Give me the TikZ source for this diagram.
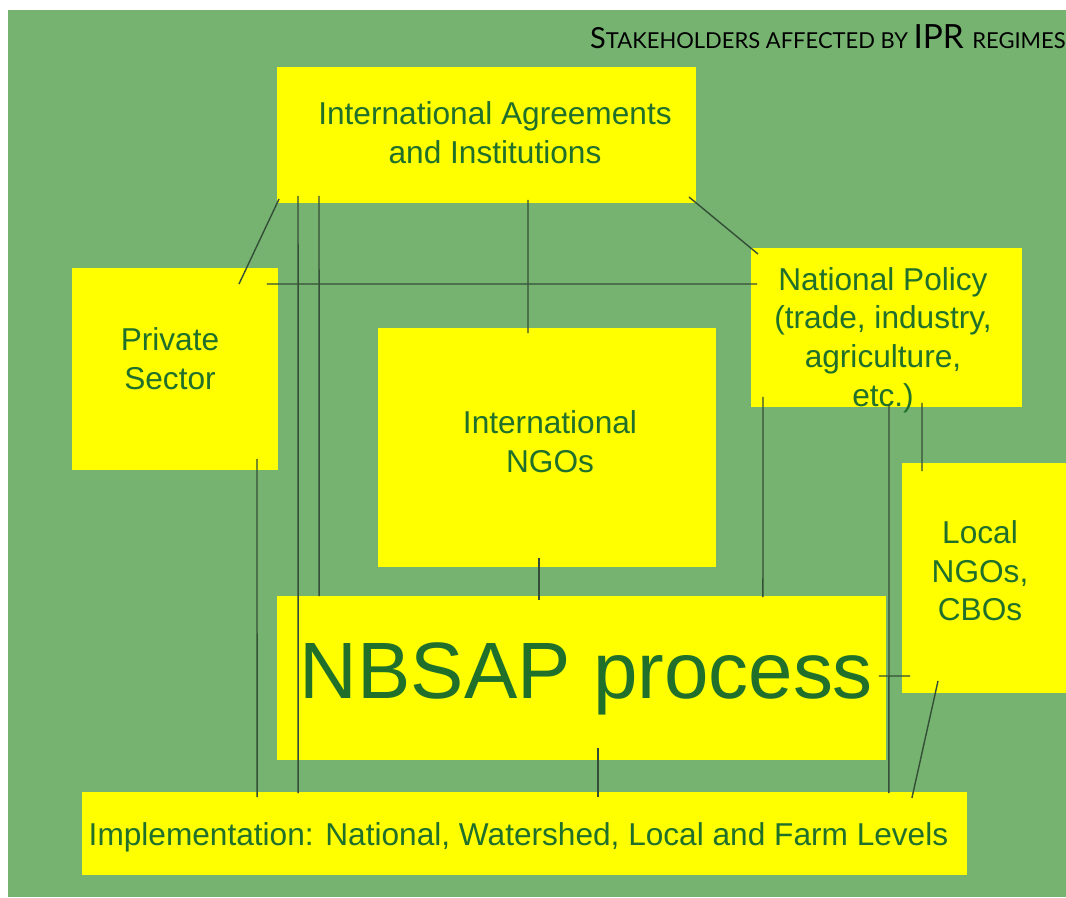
\documentclass[tikz,border=0pt]{standalone}
\usepackage{fontspec}
\usetikzlibrary{calc}
\newfontfamily\boxfont{Liberation Sans}
\newfontfamily\titlefont{Lato}
\definecolor{bggreen}{RGB}{118,179,112}
\definecolor{boxyellow}{RGB}{255,255,0}
\definecolor{txtgreen}{RGB}{32,112,44}
\definecolor{linkgray}{RGB}{52,78,56}

\begin{document}
\begin{tikzpicture}[x=0.02cm, y=-0.02cm,
    box/.style={fill=boxyellow, inner sep=0pt, outer sep=0pt},
    lbl/.style={text=txtgreen, align=center, font=\boxfont\fontsize{18}{22}\selectfont},
    link/.style={draw=linkgray, line width=0.8pt}]
    % Sfondo
    \useasboundingbox (0,0) rectangle (1066,897);
    \fill[white] (0,0) rectangle (1066,897);
    \fill[bggreen] (8,10) rectangle (1066,897);

    % Titolo
    \node[anchor=base east, inner sep=0pt, font=\titlefont] (title) at (1066,48)
        {\fontsize{16.5}{18}\selectfont S\fontsize{12.5}{14}\selectfont TAKEHOLDERS AFFECTED BY
         \fontsize{19}{20}\selectfont IPR \fontsize{12.5}{14}\selectfont REGIMES};

    % Riquadri
    \node[box, minimum width=8.38cm, minimum height=2.72cm] (agree) at (486.5,135) {};
    \node[box, minimum width=4.12cm, minimum height=4.04cm] (private) at (175,369) {};
    \node[box, minimum width=5.42cm, minimum height=3.18cm] (policy) at (886.5,327.5) {};
    \node[box, minimum width=6.76cm, minimum height=4.78cm] (intl) at (547,447.5) {};
    \node[box, minimum width=3.28cm, minimum height=4.60cm] (local) at (984,578) {};
    \node[box, minimum width=12.18cm, minimum height=3.28cm] (nbsap) at (581.5,678) {};
    \node[box, minimum width=17.70cm, minimum height=1.66cm] (impl) at (524.5,833.5) {};

    % Testi
    \node[lbl] (agree-txt) at (495,132.5) {International Agreements\\and Institutions};
    \node[lbl] (private-txt) at (170,359) {Private\\Sector};
    \node[lbl] (policy-txt) at (883,340) {National Policy\\(trade, industry,\\agriculture,\\etc.)};
    \node[lbl] (intl-txt) at (550,442) {International\\NGOs};
    \node[lbl] (local-txt) at (980,571) {Local\\NGOs,\\CBOs};
    \node[lbl, anchor=base, font=\boxfont\fontsize{45.5}{48}\selectfont] (nbsap-txt) at (586.5,698) {NBSAP process};
    \node[lbl, anchor=base] (impl-txt) at (518.5,845) {Implementation: National, Watershed, Local and Farm Levels};

    % Collegamenti
    \draw[link] ($(agree.south west)+(2,-4)$) -- ($(private.north east)+(-39,16)$);
    \draw[link] ($(agree.south east)+(-7,-6)$) -- ($(policy.north west)+(7,6)$);
    \draw[link] ($(private.north east)+(-11,16)$) -- ($(policy.north west)+(6,36)$);
    \draw[link] ($(agree.south west)+(21,-7)$) -- ($(impl.north west)+(216,1)$);
    \draw[link] ($(agree.south west)+(42,-7)$) -- ($(nbsap.north west)+(42,0)$);
    \draw[link] ($(agree.south)+(41.5,-3)$) -- ($(intl.north)+(-19,5)$);
    \draw[link] ($(private.south)+(82,-11)$) -- ($(impl.north west)+(175,5)$);
    \draw[link] ($(intl.south)+(-8,-9)$) -- ($(nbsap.north)+(-42.5,4)$);
    \draw[link] ($(policy.south west)+(12,-10)$) -- ($(nbsap.north east)+(-123,1)$);
    \draw[link] ($(policy.south west)+(138,-2)$) -- ($(impl.north east)+(-78,1)$);
    \draw[link] ($(policy.south west)+(171,-4)$) -- ($(local.north west)+(20,8)$);
    \draw[link] ($(nbsap.east)+(-7,-2)$) -- ($(local.south west)+(8,-17)$);
    \draw[link] ($(local.south west)+(36,-12)$) -- ($(impl.north east)+(-55,6)$);
    \draw[link] ($(nbsap.south)+(16.5,-12)$) -- ($(impl.north)+(73.5,5)$);
\end{tikzpicture}
\end{document}
